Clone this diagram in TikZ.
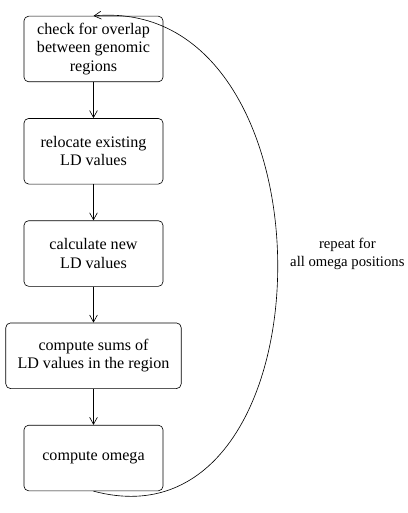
\documentclass[tikz,border=0pt]{standalone}
\usepackage{fontspec}
\setmainfont{Liberation Serif}
\usetikzlibrary{positioning, arrows.meta}

\tikzset{stage/.style={draw, rounded corners=3pt, align=center, minimum width=89pt, minimum height=42pt, inner xsep=7.5pt}}

\begin{document}
\begin{tikzpicture}[x=0.64pt, y=0.64pt, >={Straight Barb[length=4.5pt,width=5pt]}, node distance=2.3cm, on grid,
        font=\fontsize{10.3pt}{11.6pt}\selectfont]
        \useasboundingbox (0,0) rectangle (408,-513);
        \node[stage] (overlap) at (93.5,-49) {check for overlap\\between genomic\\regions};
        \node[stage] (relocate) [below=of overlap] {relocate existing\\LD values};
        \node[stage] (calc) [below=of relocate] {calculate new\\LD values};
        \node[stage] (sums) [below=of calc] {compute sums of\\LD values in the region};
        \node[stage] (omega) [below=of sums] {compute omega};

        \path[->]
        (overlap) edge (relocate)
        (relocate) edge (calc)
        (calc) edge (sums)
        (sums) edge (omega)
        (omega.south) edge [out=-15, in=5, looseness=1.35]
            node [pos=0.52, anchor=west, align=center, xshift=8pt, inner xsep=0pt,
                  font=\fontsize{9.4pt}{11.6pt}\selectfont] {repeat for\\all omega positions} (overlap.north);
    \end{tikzpicture}
\end{document}
